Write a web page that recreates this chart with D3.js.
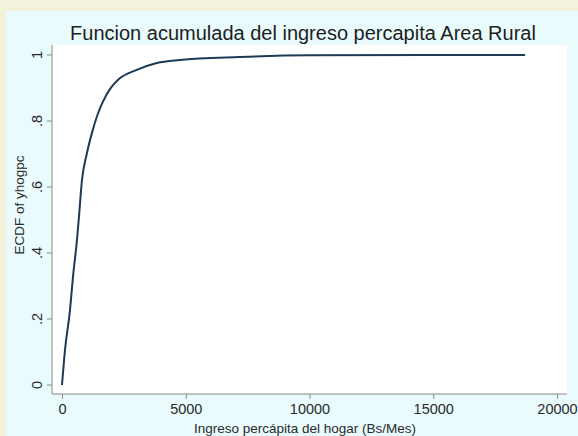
<!DOCTYPE html>
<html>
<head>
<meta charset="utf-8">
<title>ecdf rural</title>
<script src="https://cdn.jsdelivr.net/npm/d3@7"></script>
<style>
body { margin:0; background:#f5f2dc; font-family:Arial,"Liberation Sans",sans-serif; }
svg { display:block; }
.axis path, .axis line { stroke:#8a8a8a; }
.axis text { fill:#2a2a2a; font-size:14.5px; font-family:Arial,"Liberation Sans",sans-serif; }
</style>
</head>
<body>
<svg id="chart" width="578" height="436"></svg>
<script>
// ECDF: income (Bs/Mes) vs cumulative share
var ingreso = [0, 121, 323, 443, 605, 685, 806, 1000, 1210, 1450, 1650, 1950, 2300, 3020, 3830, 4760, 7180, 10000, 18710];
var ecdf    = [0, 0.106, 0.227, 0.327, 0.44, 0.51, 0.62, 0.70, 0.764, 0.822, 0.858, 0.898, 0.927, 0.955, 0.976, 0.985, 0.994, 0.999, 1];
var xTicks = [0, 5000, 10000, 15000, 20000];
var yTicks = [0, 0.2, 0.4, 0.6, 0.8, 1];
var yLabels = ["0", ".2", ".4", ".6", ".8", "1"];

var W = 578, H = 436;
var svg = d3.select("#chart");

// background panels
svg.append("rect").attr("x", 6).attr("y", 11).attr("width", W - 6).attr("height", H - 11).attr("fill", "#e9fbfc");
svg.append("rect").attr("x", 52).attr("y", 45).attr("width", 515).attr("height", 349).attr("fill", "#fff");

var x = d3.scaleLinear().domain([0, 20000]).range([62, 557]);
var y = d3.scaleLinear().domain([0, 1]).range([385, 55]);

var xa = svg.append("g").attr("class", "axis").attr("transform", "translate(0,394)")
  .call(d3.axisBottom(x).tickValues(xTicks).tickFormat(d3.format("d")).tickSize(5).tickPadding(5));
xa.select(".domain").attr("d", "M52,0H567");

var ya = svg.append("g").attr("class", "axis").attr("transform", "translate(52,0)")
  .call(d3.axisLeft(y).tickValues(yTicks).tickFormat(function(d, i) { return yLabels[i]; }).tickSize(5).tickPadding(0));
ya.select(".domain").attr("d", "M0,45V394");
ya.selectAll("text").attr("text-anchor", "middle").attr("dy", 0)
  .attr("transform", function(d) { return "translate(-10," + y(d) + ") rotate(-90)"; }).attr("x", 0).attr("y", 0);
ya.selectAll(".tick").attr("transform", null);
ya.selectAll(".tick line").attr("transform", function(d) { return "translate(0," + y(d) + ")"; });

svg.append("path").datum(d3.range(ingreso.length))
  .attr("fill", "none").attr("stroke", "#1d3a58").attr("stroke-width", 2).attr("stroke-linejoin", "round")
  .attr("d", d3.line().curve(d3.curveMonotoneX).x(function(i) { return x(ingreso[i]); }).y(function(i) { return y(ecdf[i]); }));

svg.append("text").attr("x", 303).attr("y", 40).attr("text-anchor", "middle")
  .attr("font-size", 20).attr("fill", "#1e1e1e").text("Funcion acumulada del ingreso percapita Area Rural");
svg.append("text").attr("x", 305).attr("y", 433).attr("text-anchor", "middle")
  .attr("font-size", 13.5).attr("fill", "#2a2a2a").text("Ingreso percápita del hogar (Bs/Mes)");
svg.append("text").attr("transform", "translate(24,205) rotate(-90)").attr("text-anchor", "middle")
  .attr("font-size", 13.5).attr("fill", "#2a2a2a").text("ECDF of yhogpc");
</script>
</body>
</html>
